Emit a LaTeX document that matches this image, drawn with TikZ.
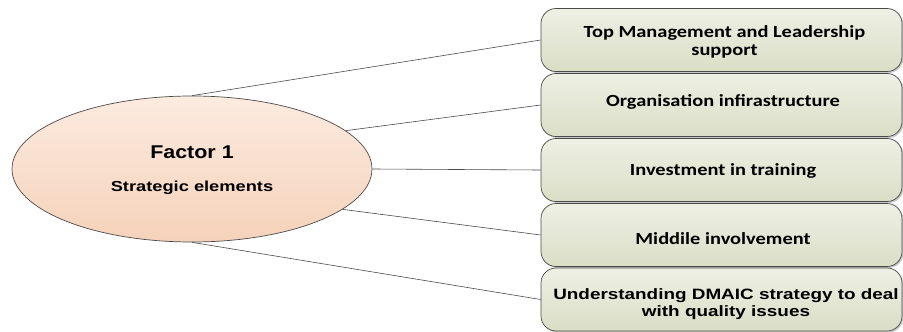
\documentclass[tikz,border=0pt]{standalone}
\usepackage{fontspec}
\usepackage{graphicx}
\setmainfont{Liberation Sans}
\newfontfamily\boxfont{Carlito}
\usetikzlibrary{shapes.geometric,shadows}
\definecolor{peachtop}{HTML}{FCEBE0}
\definecolor{peachbot}{HTML}{F5D2BA}
\definecolor{sagetop}{HTML}{EEF0E4}
\definecolor{sagebot}{HTML}{DADEC6}
\definecolor{edge}{HTML}{4A4A4A}
% text is set slightly widened
\newcommand{\wide}[2][1.19]{\scalebox{#1}[1]{#2}}
\tikzset{
  factor/.style={ellipse, draw=edge, line width=0.7pt, top color=peachtop, bottom color=peachbot,
    minimum width=360, minimum height=146, inner sep=0pt},
  itembox/.style={rectangle, rounded corners=15pt, draw=edge, line width=0.7pt,
    top color=sagetop, bottom color=sagebot, minimum width=361, minimum height=63,
    inner sep=0pt,
    drop shadow={shadow xshift=1.5pt, shadow yshift=-1.5pt, fill=black, opacity=0.22}},
  spoke/.style={draw=edge, line width=0.6pt},
  label/.style={anchor=base, inner sep=0pt, align=center},
  calibritext/.style={label, font=\boxfont\bfseries\fontsize{17}{17.5}\selectfont},
  arialtext/.style={label, font=\bfseries\fontsize{15}{17.7}\selectfont}
}
\begin{document}
\begin{tikzpicture}[x=1pt,y=-1pt]
\useasboundingbox (0,0) rectangle (903,332);

\node[factor] (f) at (192,169) {};
\node[label, font=\bfseries\fontsize{18.5}{20}\selectfont] (ftitle) at (192,158.3) {\wide[1.16]{Factor 1}};
\node[label, font=\bfseries\fontsize{14.5}{16}\selectfont] (fsub) at (192,191.7) {\wide[1.26]{Strategic elements}};

\node[itembox] (b1) at (721.5,40) {};
\node[itembox] (b2) at (721.5,105) {};
\node[itembox] (b3) at (721.5,170) {};
\node[itembox] (b4) at (721.5,235) {};
\node[itembox] (b5) at (721.5,299.5) {};

% multi-line labels are anchored at the baseline of their last line
\node[calibritext] (t1) at (724.5,55.2) {\wide[1.2]{Top Management and Leadership}\\\wide[1.2]{support}};
\node[calibritext] (t2) at (723,106) {\wide[1.2]{Organisation infirastructure}};
\node[calibritext] (t3) at (723,175) {\wide[1.2]{Investment in training}};
\node[calibritext] (t4) at (723,244) {\wide[1.2]{Middile involvement}};
\node[arialtext] (t5) at (726,316.7) {\wide[1.26]{Understanding DMAIC strategy to deal}\\\wide[1.26]{with quality issues}};

\draw[spoke] (f.north) -- (b1.west);
\draw[spoke] (f.14) -- (b2.west);
\draw[spoke] (f.east) -- (b3.west);
\draw[spoke] (f.-15) -- (b4.west);
\draw[spoke] (f.south) -- (b5.west);
\end{tikzpicture}
\end{document}
